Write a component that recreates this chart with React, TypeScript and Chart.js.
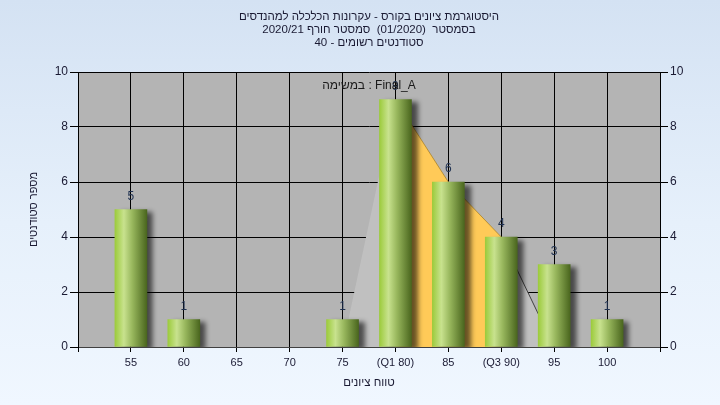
import React, { useEffect, useRef } from 'react';
import { Chart, registerables } from 'chart.js';

Chart.register(...registerables);

// ---- data ----
const scoreBins = [55, 60, 65, 70, 75, 80, 85, 90, 95, 100];
const studentCounts = [5, 1, 0, 0, 1, 9, 6, 4, 3, 1];
const xTickLabels = ['55', '60', '65', '70', '75', '(Q1 80)', '85', '(Q3 90)', '95', '100'];
const polygonX = [75, 80, 85, 90, 95];
const polygonY = [0, 9, 6, 4, 0];
const iqrX = [80, 85, 90];
const iqrY = [9, 6, 4];
const yMax = 10;
const yStep = 2;

const titleLines = [
  'היסטוגרמת ציונים בקורס - עקרונות הכלכלה למהנדסים',
  'בסמסטר  (01/2020)  סמסטר חורף 2020/21',
  'סטודנטים רשומים - 40',
];
const subtitleText = 'במשימה : Final_A';
const xTitle = 'טווח ציונים';
const yTitle = 'מספר סטודנטים';

const FONT = '"Liberation Sans", Arial, sans-serif';
const TEXT = '#1a1a33';

export default function App() {
  const ref = useRef<HTMLCanvasElement | null>(null);

  useEffect(() => {
    const canvas = ref.current;
    if (!canvas) return;

    const plotBg = {
      id: 'plotBg',
      beforeDraw(chart: any) {
        const { ctx, chartArea: a } = chart;
        ctx.save();
        ctx.fillStyle = '#b4b4b4';
        ctx.fillRect(a.left, a.top, a.right - a.left, a.bottom - a.top);
        ctx.restore();
      },
    };

    const barShadow = {
      id: 'barShadow',
      beforeDatasetDraw(chart: any, args: any) {
        if (args.index !== 0) return;
        const ctx = chart.ctx;
        ctx.save();
        ctx.shadowColor = 'rgba(0,0,0,0.6)';
        ctx.shadowOffsetX = 6;
        ctx.shadowOffsetY = 3;
        ctx.shadowBlur = 5;
      },
      afterDatasetDraw(chart: any, args: any) {
        if (args.index !== 0) return;
        chart.ctx.restore();
      },
    };

    const labelsPlugin = {
      id: 'valueLabels',
      afterDatasetsDraw(chart: any) {
        const { ctx, chartArea: a } = chart;
        const meta = chart.getDatasetMeta(0);
        ctx.save();
        ctx.font = `12px ${FONT}`;
        ctx.textAlign = 'center';
        ctx.textBaseline = 'middle';
        ctx.fillStyle = '#1e3050';
        meta.data.forEach((el: any, i: number) => {
          if (!studentCounts[i]) return;
          ctx.fillText(String(studentCounts[i]), el.x, el.y - 13);
        });
        ctx.fillStyle = '#1a1a1a';
        ctx.fillText(subtitleText, (a.left + a.right) / 2, a.top + 14);
        ctx.restore();
      },
    };

    const barGradient = (c: any) => {
      const chart = c.chart;
      const xs = chart.scales && chart.scales.x;
      if (!xs || c.type !== 'data') return '#a0c850';
      const cx = xs.getPixelForValue(scoreBins[c.dataIndex]);
      if (!isFinite(cx)) return '#a0c850';
      const g = chart.ctx.createLinearGradient(cx - 16, 0, cx + 16, 0);
      g.addColorStop(0, '#9ccb3c');
      g.addColorStop(0.28, '#c8e28e');
      g.addColorStop(0.55, '#97b65c');
      g.addColorStop(1, '#4a661e');
      return g;
    };

    const chart = new Chart(canvas, {
      type: 'bar',
      data: {
        labels: scoreBins,
        datasets: [
          {
            type: 'bar',
            data: studentCounts.map((v) => (v ? v : null)),
            backgroundColor: barGradient,
            borderWidth: 0,
            barThickness: 32,
            order: 0,
            yAxisID: 'y',
          } as any,
          {
            type: 'line',
            data: iqrX.map((x, i) => ({ x, y: iqrY[i] })),
            backgroundColor: '#ffca58',
            borderColor: 'rgba(170,130,40,0.8)',
            borderWidth: 1,
            pointRadius: 0,
            fill: 'origin',
            tension: 0,
            order: 1,
            yAxisID: 'y',
          } as any,
          {
            type: 'line',
            data: polygonX.map((x, i) => ({ x, y: polygonY[i] })),
            backgroundColor: '#c0c0c0',
            borderWidth: 1,
            segment: {
              borderColor: (s: any) => (s.p0DataIndex === 3 ? '#404040' : 'rgba(0,0,0,0)'),
            },
            pointRadius: 0,
            fill: 'origin',
            tension: 0,
            order: 2,
            yAxisID: 'y',
          } as any,
        ],
      },
      options: {
        responsive: false,
        animation: false,
        devicePixelRatio: 1,
        layout: { padding: 0 },
        plugins: {
          legend: { display: false },
          tooltip: { enabled: false },
          title: {
            display: true,
            fullSize: false,
            text: titleLines,
            color: TEXT,
            font: { family: FONT, size: 11.5, weight: 'normal', lineHeight: 13 / 11.5 },
            padding: { top: 10.5, bottom: 22.5 },
          },
        },
        scales: {
          x: {
            type: 'linear',
            min: 50,
            max: 105,
            offset: false,
            grid: { offset: false, color: '#000', lineWidth: 1, tickLength: 5, drawTicks: true },
            border: { color: '#404040', width: 1 },
            ticks: {
              stepSize: 5,
              autoSkip: false,
              maxRotation: 0,
              padding: 4,
              color: TEXT,
              font: { family: FONT, size: 11 },
              callback: (v: any) => {
                const i = scoreBins.indexOf(Number(v));
                return i >= 0 ? xTickLabels[i] : '';
              },
            },
            title: {
              display: true,
              text: xTitle,
              color: TEXT,
              font: { family: FONT, size: 11.5, lineHeight: 1.2 },
              padding: { top: 0, bottom: 15.5 },
            },
            afterFit: (s: any) => { s.height = 58; },
          } as any,
          y: {
            type: 'linear',
            position: 'left',
            min: 0,
            max: yMax,
            grid: { color: '#000', lineWidth: 1, tickLength: 8 },
            border: { color: '#000', width: 1 },
            ticks: { stepSize: yStep, padding: 2, color: TEXT, font: { family: FONT, size: 12 } },
            title: {
              display: true,
              text: yTitle,
              color: TEXT,
              font: { family: FONT, size: 11, lineHeight: 1.2 },
              padding: { top: 27.4, bottom: 0 },
            },
            afterFit: (s: any) => { s.width = 78; },
          } as any,
          y2: {
            type: 'linear',
            position: 'right',
            min: 0,
            max: yMax,
            grid: { color: '#000', lineWidth: 1, tickLength: 8, drawOnChartArea: false },
            border: { color: '#000', width: 1 },
            ticks: { stepSize: yStep, padding: 2, color: TEXT, font: { family: FONT, size: 12 } },
            afterFit: (s: any) => { s.width = 60; },
          } as any,
        },
      } as any,
      plugins: [plotBg, barShadow, labelsPlugin],
    });

    return () => chart.destroy();
  }, []);

  return (
    <div
      style={{
        position: 'absolute',
        left: 0,
        top: 0,
        width: 720,
        height: 405,
        background: 'linear-gradient(to bottom, #d4e2f3 0%, #e6f0fb 55%, #f0f7ff 100%)',
      }}
    >
      <canvas ref={ref} width={720} height={405} style={{ display: 'block' }} />
    </div>
  );
}
